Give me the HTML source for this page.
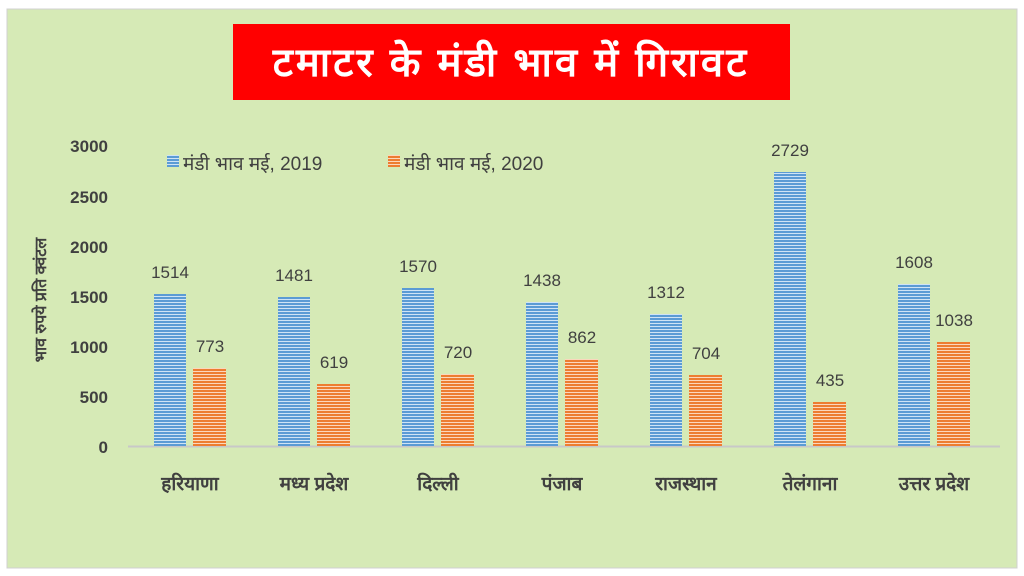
<!DOCTYPE html>
<html><head><meta charset="utf-8"><style>
body{margin:0;background:#fff;}
svg{display:block;font-family:"Liberation Sans","Noto Sans CJK SC",sans-serif;}
</style></head><body>
<svg width="1024" height="576" xmlns="http://www.w3.org/2000/svg">
<defs>
<pattern id="pb" width="4" height="3" patternUnits="userSpaceOnUse"><rect width="4" height="3" fill="#cfe3f5"/><rect width="4" height="2" fill="#5b9bd5"/></pattern>
<pattern id="po" width="4" height="3" patternUnits="userSpaceOnUse"><rect width="4" height="3" fill="#fbd7bd"/><rect width="4" height="2" fill="#ed7d31"/></pattern>
</defs>
<rect x="0" y="0" width="1024" height="576" fill="#fff"/>
<rect x="7" y="9" width="1010" height="559" fill="#d6eab6" stroke="#d0d0d0"/>
<rect x="233" y="24" width="557" height="76" fill="#ff0000"/>
<text x="511" y="76" text-anchor="middle" font-size="40" font-weight="bold" fill="#fff" letter-spacing="3">टमाटर के मंडी भाव में गिरावट</text>
<g font-size="17" font-weight="bold" fill="#404040" text-anchor="end">
<text x="108" y="152">3000</text><text x="108" y="203">2500</text>
<text x="108" y="253">2000</text><text x="108" y="303">1500</text><text x="108" y="353">1000</text><text x="108" y="403">500</text><text x="108" y="453">0</text>
</g>
<text transform="translate(46,300) rotate(-90)" text-anchor="middle" font-size="16" font-weight="bold" fill="#404040">भाव रुपये प्रति क्वंटल</text>
<rect x="167" y="155" width="12" height="12" fill="url(#pb)"/>
<text x="183" y="170" font-size="19" fill="#404040">मंडी भाव मई, 2019</text>
<rect x="388" y="155" width="12" height="12" fill="url(#po)"/>
<text x="404" y="170" font-size="19" fill="#404040">मंडी भाव मई, 2020</text>
<line x1="128" y1="446.5" x2="1000" y2="446.5" stroke="#c8c8c8" stroke-width="2"/>
<g font-size="17" fill="#404040" text-anchor="middle">
<rect x="154" y="294" width="32" height="152" fill="url(#pb)"/><rect x="193" y="368" width="33" height="78" fill="url(#po)"/>
<text x="170" y="278">1514</text><text x="210" y="352">773</text>
<rect x="278" y="297" width="32" height="149" fill="url(#pb)"/><rect x="317" y="384" width="33" height="62" fill="url(#po)"/>
<text x="294" y="281">1481</text><text x="334" y="368">619</text>
<rect x="402" y="288" width="32" height="158" fill="url(#pb)"/><rect x="441" y="374" width="33" height="72" fill="url(#po)"/>
<text x="418" y="272">1570</text><text x="458" y="358">720</text>
<rect x="526" y="302" width="32" height="144" fill="url(#pb)"/><rect x="565" y="359" width="33" height="87" fill="url(#po)"/>
<text x="542" y="286">1438</text><text x="582" y="343">862</text>
<rect x="650" y="314" width="32" height="132" fill="url(#pb)"/><rect x="689" y="375" width="33" height="71" fill="url(#po)"/>
<text x="666" y="298">1312</text><text x="706" y="359">704</text>
<rect x="774" y="172" width="32" height="274" fill="url(#pb)"/><rect x="813" y="402" width="33" height="44" fill="url(#po)"/>
<text x="790" y="156">2729</text><text x="830" y="386">435</text>
<rect x="898" y="284" width="32" height="162" fill="url(#pb)"/><rect x="937" y="342" width="33" height="104" fill="url(#po)"/>
<text x="914" y="268">1608</text><text x="954" y="326">1038</text>
</g>
<g font-size="19" font-weight="bold" fill="#404040" text-anchor="middle">
<text x="190" y="490">हरियाणा</text><text x="314" y="490">मध्य प्रदेश</text><text x="438" y="490">दिल्ली</text>
<text x="562" y="490">पंजाब</text><text x="686" y="490">राजस्थान</text><text x="810" y="490">तेलंगाना</text><text x="934" y="490">उत्तर प्रदेश</text>
</g>
</svg>
</body></html>
